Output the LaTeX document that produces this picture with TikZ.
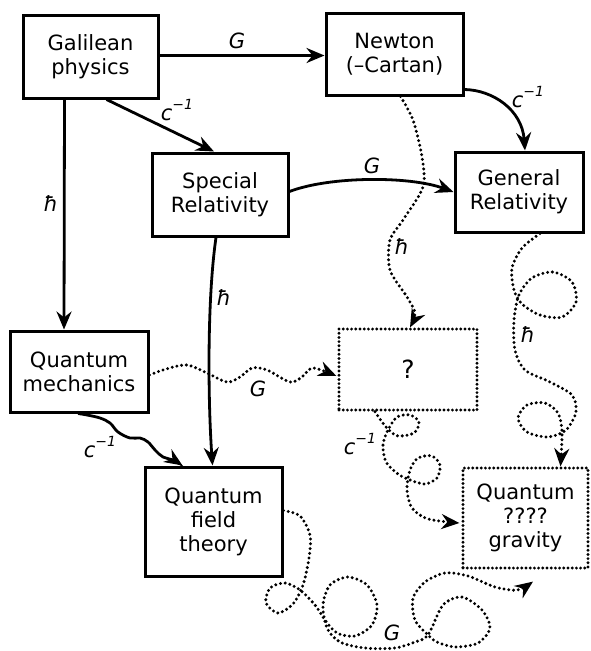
\documentclass[tikz,border=0pt]{standalone}
\usepackage{fontspec}
\setmainfont{DejaVu Sans}
\usetikzlibrary{arrows.meta,calc}
\newcommand\boxfont{\fontsize{21}{24}\selectfont}
\newcommand\labfont{\fontsize{21}{24}\selectfont\itshape}
\newcommand\cinv{c\raisebox{0.5em}{\fontsize{14}{14}\selectfont −1}}
\tikzset{
  box/.style={draw, line width=3pt, align=center, inner sep=0pt, font=\boxfont},
  dbox/.style={box, line cap=round, dash pattern=on 0pt off 4.2pt, line width=3.2pt},
  tipa/.style={-{Stealth[length=18pt,width=15pt,inset=6pt]}},
  conn/.style={line width=2.8pt, tipa},
  dconn/.style={line width=3.3pt, line cap=round, dash pattern=on 0pt off 4.8pt, tipa},
  lab/.style={font=\labfont, inner sep=0pt},
}
\begin{document}
\begin{tikzpicture}[x=1pt,y=-1pt]
\useasboundingbox (0,0) rectangle (591,651);
% boxes
\node[box, minimum width=135pt, minimum height=83pt] (gal) at (90.5,56.5) {Galilean\\physics};
\node[box, minimum width=137pt, minimum height=82pt] (newton) at (394.5,54) {Newton\\(–Cartan)};
\node[box, minimum width=136pt, minimum height=83pt] (sr) at (220,194.5) {Special\\Relativity};
\node[box, minimum width=128pt, minimum height=80pt] (gr) at (519,192) {General\\Relativity};
\node[box, minimum width=138pt, minimum height=81pt] (qm) at (79,371.5) {Quantum\\mechanics};
\node[dbox, minimum width=138pt, minimum height=81pt, font=\fontsize{25}{27}\selectfont] (unk) at (408,369.5) {?};
\node[box, minimum width=137pt, minimum height=109pt] (qft) at (213.5,521.5) {Quantum\\field\\theory};
\node[dbox, minimum width=125pt, minimum height=100pt] (qg) at (525.5,518) {Quantum\\????\\gravity};

% endpoints
\coordinate (qmS) at ($(qm.south)+(-1,0)$);
\coordinate (qftNW) at ($(qft.north west)+(39,0)$);
\coordinate (qmE) at ($(qm.east)+(0,3.5)$);
\coordinate (unkW) at ($(unk.west)+(-1,6.5)$);
\coordinate (newS) at ($(newton.south)+(6,0)$);
\coordinate (unkN) at ($(unk.north)+(2,0)$);
\coordinate (unkS) at ($(unk.south)+(-33,0)$);
\coordinate (qgW) at ($(qg.west)+(-2,5)$);
\coordinate (grS) at ($(gr.south)+(21,0)$);
\coordinate (qgN) at ($(qg.north)+(35,0)$);
\coordinate (qftE) at ($(qft.east)+(0,-11)$);
\coordinate (qgB) at ($(qg.south)+(7.5,12)$);

% solid connectors
\draw[conn] ($(gal.east)+(0,-1)$) -- ($(newton.west)+(0,1.5)$);
\draw[conn] ($(gal.south)+(16,0)$) -- ($(sr.north)+(-6,0)$);
\draw[conn] ($(gal.south)+(-26,0)$) -- ($(qm.north)+(-15,0)$);
\draw[conn] ($(newton.south east)+(0,-7)$) .. controls (493,90) and (522,110) .. ($(gr.north)+(6,0)$);
\draw[conn] ($(sr.east)+(0,-3)$) .. controls (330,176) and (410,176) .. (gr.west);
\draw[conn] ($(sr.south)+(-4,0)$) .. controls (207,300) and (208,400) .. ($(qft.north)+(-1,0)$);
\draw[conn] plot[smooth, tension=0.6] coordinates {(qmS) (87,415) (100,418) (110,423) (118,432) (130,438) (140,438) (148,442) (155,450) (163,457) (173,460) (qftNW)};

% dotted connectors
\draw[dconn] plot[smooth] coordinates {(qmE) (166,369) (187,365) (207,373) (227,382) (240,377) (252,368) (267,370) (290,382) (302,377) (313,368) (unkW)};
\draw[dconn] plot[smooth] coordinates {(newS) (413,120) (422,157) (423,187) (403,220) (390,240) (390,270) (407,297) (415,313) (unkN)};
\draw[dconn] plot[smooth] coordinates {(unkS) (382,422) (389,430) (398,436) (414,433) (419,422) (410,415) (397,417) (388,430) (383,445) (386,462) (398,474) (410,480) (425,484) (437,478) (440,465) (432,456) (418,458) (410,470) (407,490) (412,508) (428,519) (qgW)};
\draw[dconn] plot[smooth] coordinates {(grS) (522,248) (512,268) (514,290) (522,304) (540,315) (562,317) (576,302) (572,282) (553,272) (532,278) (519,295) (514,320) (515,350) (525,370) (550,382) (572,395) (576,412) (566,430) (548,437) (527,432) (518,418) (527,405) (545,403) (558,413) (562,432) (qgN)};
\draw[dconn] plot[smooth] coordinates {(qftE) (300,516) (310,535) (309,558) (303,585) (293,604) (278,613) (266,603) (270,588) (285,583) (300,590) (315,605) (325,620) (337,633) (355,636) (372,625) (377,605) (367,585) (348,577) (330,585) (323,605) (327,628) (340,642) (365,648) (395,648) (415,642) (428,635) (443,605) (462,597) (482,610) (490,628) (478,643) (455,647) (437,642) (428,635) (415,620) (413,598) (425,582) (445,573) (468,576) (495,587) (517,590) (qgB)};

% labels
\node[lab] (l1) at (237,41) {G};
\node[lab] (l2) at (177,110) {\cinv};
\node[lab] (l3) at (51,204) {ħ};
\node[lab] (l4) at (528,97) {\cinv};
\node[lab] (l5) at (372,166) {G};
\node[lab] (l6) at (224,298) {ħ};
\node[lab] (l7) at (258,389) {G};
\node[lab] (l8) at (100,447) {\cinv};
\node[lab] (l9) at (402,247) {ħ};
\node[lab] (l10) at (360,444) {\cinv};
\node[lab] (l11) at (528,335) {ħ};
\node[lab] (l12) at (392,633) {G};
\end{tikzpicture}
\end{document}
